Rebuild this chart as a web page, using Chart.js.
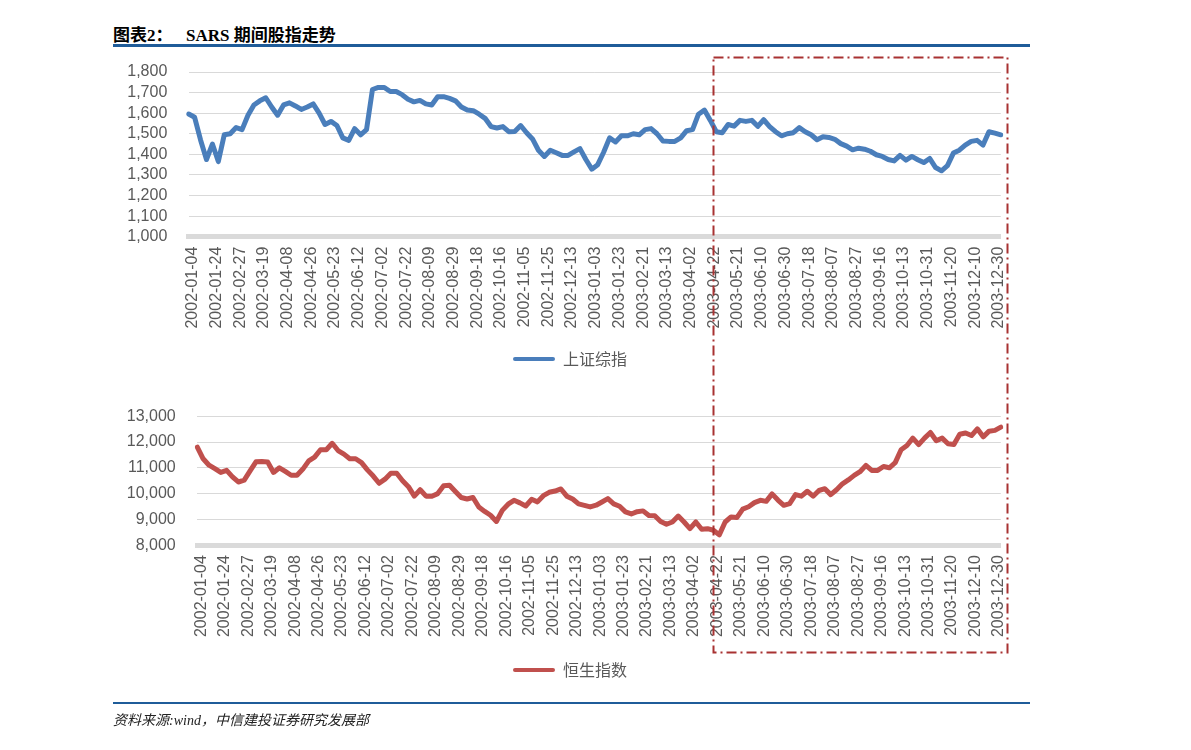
<!DOCTYPE html>
<html>
<head>
<meta charset="utf-8">
<script src="https://cdn.jsdelivr.net/npm/chart.js@4.4.1/dist/chart.umd.min.js"></script>
<style>
  html, body { margin: 0; padding: 0; background: #ffffff; }
  body { width: 1191px; height: 750px; position: relative; overflow: hidden; }
  .abs { position: absolute; }
  #title1, #title2 { font-family: "Liberation Serif", "Noto Sans CJK SC", serif; font-weight: bold; font-size: 17px; color: #000; top: 21px; white-space: nowrap; }
  #title1 { left: 113px; }
  #title2 { left: 186px; }
  #topRule { left: 113px; top: 44px; width: 917px; height: 3px; background: #1f5c99; }
  #botRule { left: 113px; top: 702px; width: 917px; height: 2px; background: #1f5c99; }
  #source { left: 113px; top: 709px; font-family: "Liberation Serif", "Noto Sans CJK SC", serif; font-style: italic; font-size: 14px; color: #222; white-space: nowrap; }
  canvas { position: absolute; }
  #c1 { left: 110px; top: 41px; }
  #c2 { left: 110px; top: 385px; }
  #overlay { left: 0; top: 0; pointer-events: none; }
</style>
</head>
<body>
<div id="title1" class="abs">图表2：</div>
<div id="title2" class="abs">SARS 期间股指走势</div>
<div id="topRule" class="abs"></div>
<canvas id="c1" width="920" height="336"></canvas>
<canvas id="c2" width="920" height="303"></canvas>
<svg id="overlay" class="abs" width="1191" height="750">
  <rect x="713.5" y="57.5" width="294" height="595" fill="none" stroke="#a83232" stroke-width="2" stroke-dasharray="10 4 2 4"/>
</svg>
<div id="botRule" class="abs"></div>
<div id="source" class="abs">资料来源:wind，中信建投证券研究发展部</div>
<script>
// ---- tick labels shown on the category axis (every 4th sampled point) ----
const tickLabels = [
  "2002-01-04","2002-01-24","2002-02-27","2002-03-19","2002-04-08","2002-04-26",
  "2002-05-23","2002-06-12","2002-07-02","2002-07-22","2002-08-09","2002-08-29",
  "2002-09-18","2002-10-16","2002-11-05","2002-11-25","2002-12-13","2003-01-03",
  "2003-01-23","2003-02-21","2003-03-13","2003-04-02","2003-04-22","2003-05-21",
  "2003-06-10","2003-06-30","2003-07-18","2003-08-07","2003-08-27","2003-09-16",
  "2003-10-13","2003-10-31","2003-11-20","2003-12-10","2003-12-30"
];

const shIndex = [
  1596,1580,1470,1375,1450,1365,1495,1500,1530,1520,
  1590,1640,1660,1675,1630,1590,1640,1650,1635,1618,
  1630,1645,1600,1545,1560,1540,1480,1468,1525,1495,
  1520,1715,1725,1725,1705,1705,1690,1668,1655,1662,
  1645,1640,1680,1680,1672,1660,1630,1615,1612,1595,
  1575,1535,1528,1535,1510,1511,1540,1505,1475,1420,
  1390,1420,1408,1395,1395,1412,1428,1375,1328,1350,
  1410,1480,1460,1490,1490,1500,1495,1520,1525,1500,
  1465,1463,1463,1480,1515,1520,1595,1615,1565,1510,
  1505,1545,1537,1565,1560,1565,1536,1568,1535,1510,
  1490,1500,1505,1530,1510,1495,1471,1485,1482,1473,
  1452,1440,1422,1430,1425,1415,1398,1390,1375,1368,
  1395,1372,1390,1374,1360,1380,1336,1320,1345,1406,
  1420,1445,1463,1468,1445,1510,1503,1495
];

const hsIndex = [
  11800,11350,11100,10964,10820,10900,10650,10450,10520,10880,
  11230,11240,11222,10820,11000,10860,10710,10710,10950,11270,
  11415,11700,11700,11950,11670,11530,11350,11350,11200,10920,
  10680,10400,10560,10790,10790,10500,10270,9900,10150,9900,
  9900,10000,10300,10320,10080,9850,9790,9850,9480,9310,
  9160,8920,9350,9590,9740,9640,9520,9780,9680,9920,
  10050,10100,10180,9900,9790,9600,9546,9482,9550,9675,
  9804,9600,9510,9290,9210,9300,9330,9150,9140,8920,
  8812,8900,9130,8900,8644,8900,8620,8640,8580,8400,
  8900,9095,9070,9400,9490,9650,9740,9700,9990,9750,
  9546,9611,9960,9900,10090,9900,10120,10190,9960,10150,
  10380,10530,10706,10850,11093,10900,10900,11050,11000,11200,
  11700,11866,12150,11900,12150,12370,12050,12150,11930,11900,
  12300,12350,12250,12510,12200,12420,12450,12575
];

const shAxis = { min: 1000, max: 1800, step: 100 };
const hsAxis = { min: 8000, max: 13000, step: 1000 };

// category labels: a tick label on every 4th sampled point, blanks between
const categories = shIndex.map((_, i) => (i % 4 === 0 && tickLabels[i / 4]) ? tickLabels[i / 4] : "");

const tickFont = { family: "'Liberation Sans', 'Noto Sans', sans-serif", size: 16 };
const legendFont = { family: "'Noto Sans CJK SC', sans-serif", size: 16 };
const gray = '#595959';

function makeChart(id, name, values, color, axis, cfg) {
  return new Chart(document.getElementById(id), {
    type: 'line',
    data: {
      labels: categories,
      datasets: [{
        label: name,
        data: values,
        borderColor: color,
        backgroundColor: color,
        borderWidth: 5,
        pointRadius: 0,
        tension: 0,
        borderJoinStyle: 'round',
        borderCapStyle: 'round',
        fill: false,
        yAxisID: 'y'
      }]
    },
    options: {
      responsive: false,
      animation: false,
      devicePixelRatio: 1,
      layout: { padding: { top: cfg.padTop, left: 0, right: 0, bottom: 0 } },
      plugins: {
        tooltip: { enabled: false },
        legend: {
          position: 'bottom',
          align: 'center',
          labels: {
            boxWidth: 42,
            boxHeight: 4,
            padding: 10,
            color: gray,
            font: legendFont,
            useBorderRadius: true,
            borderRadius: 2,
            generateLabels: (chart) => chart.data.datasets.map((ds, i) => ({
              text: ds.label, fillStyle: ds.borderColor, strokeStyle: ds.borderColor,
              lineWidth: 0, hidden: false, datasetIndex: i, fontColor: gray, borderRadius: 2
            }))
          }
        }
      },
      scales: {
        x: {
          type: 'category',
          offset: false,
          grid: { display: false, drawTicks: false },
          border: { display: true, width: 5, color: '#dadada' },
          ticks: {
            autoSkip: false, minRotation: 90, maxRotation: 90,
            color: gray, font: tickFont, padding: 10, labelOffset: 4
          },
          afterFit: (s) => { s.height = cfg.xHeight; }
        },
        y: {
          position: 'left',
          min: axis.min, max: axis.max,
          grid: { color: '#d9d9d9', lineWidth: 1, drawTicks: false },
          border: { display: false },
          ticks: {
            stepSize: axis.step, autoSkip: false, color: gray, font: tickFont, padding: cfg.yPad,
            callback: (v) => v.toLocaleString('en-US')
          },
          afterFit: (s) => { s.width = cfg.yWidth; }
        },
        // blank spacer on the right so the plot ends where the original does
        spacer: {
          type: 'linear',
          position: 'right',
          grid: { display: false, drawTicks: false },
          border: { display: false },
          ticks: { display: false },
          afterFit: (s) => { s.width = cfg.rightSpace; }
        }
      }
    }
  });
}

makeChart('c1', '上证综指', shIndex, '#4a7ebb', shAxis,
  { padTop: 15.2, yWidth: 78.7, rightSpace: 29, yPad: 21.4, xHeight: 104.3 });
makeChart('c2', '恒生指数', hsIndex, '#c0504d', hsAxis,
  { padTop: 16.2, yWidth: 87.3, rightSpace: 26.7, yPad: 21.6, xHeight: 106.8 });
</script>
</body>
</html>
